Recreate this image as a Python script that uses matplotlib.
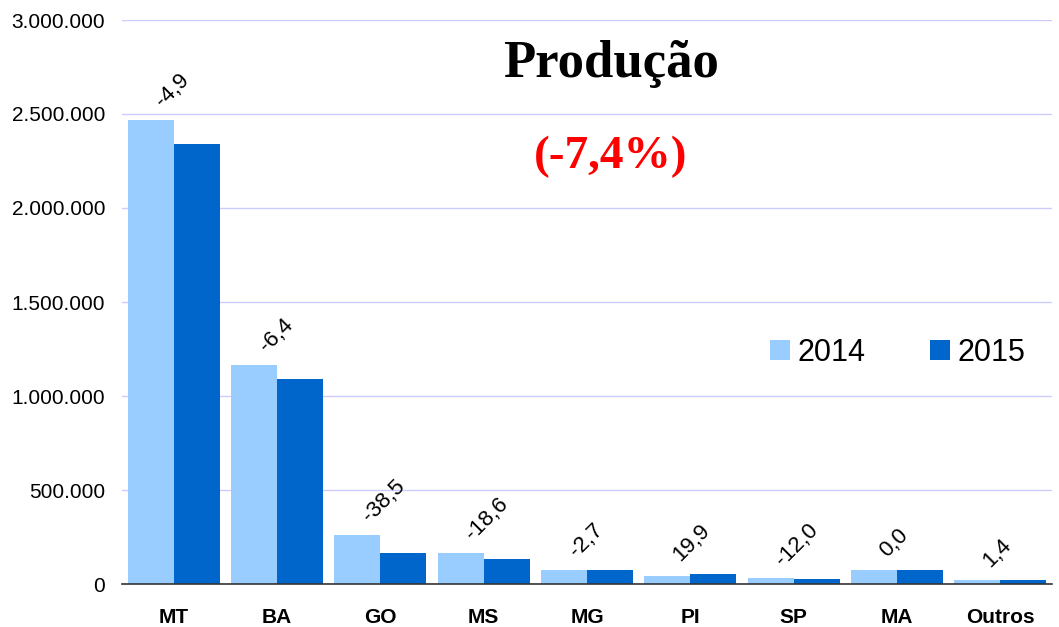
import matplotlib
matplotlib.use("Agg")
import matplotlib.pyplot as plt
import numpy as np

# Production by state, 2014 vs 2015
estados = ["MT", "BA", "GO", "MS", "MG", "PI", "SP", "MA", "Outros"]
prod_2014 = [2468000, 1165000, 261000, 165000, 76000, 44000, 30000, 74500, 21000]
prod_2015 = [2340000, 1090000, 165000, 133000, 74000, 53000, 26500, 74500, 21300]
variacao = [-4.9, -6.4, -38.5, -18.6, -2.7, 19.9, -12.0, 0.0, 1.4]
yticks = [0, 500000, 1000000, 1500000, 2000000, 2500000, 3000000]

plt.rcParams["font.family"] = ["Liberation Sans", "DejaVu Sans"]

W, H = 1059, 627
fig = plt.figure(figsize=(W / 100, H / 100), dpi=100)
ax = fig.add_axes([122 / W, (H - 584) / H, 930 / W, 564 / H])

x = np.arange(len(estados))
bw = 0.445
ax.bar(x - bw / 2, prod_2014, bw, color="#99ccff", label="2014", zorder=2)
ax.bar(x + bw / 2, prod_2015, bw, color="#0066cc", label="2015", zorder=2)

# rotated variation labels above each group
for i, v in enumerate(variacao):
    top = max(prod_2014[i], prod_2015[i])
    txt = f"{v:.1f}".replace(".", ",")
    ax.annotate(txt, (x[i], top), xytext=(-5, 6), textcoords="offset points",
                rotation=45, rotation_mode="anchor", ha="left", va="bottom",
                fontsize=16, color="black")

ax.set_xlim(-0.5, len(estados) - 0.5)
ax.set_ylim(0, 3000000)
ax.set_yticks(yticks)
ax.set_yticklabels([f"{t:,}".replace(",", ".") for t in yticks], fontsize=15)
ax.set_xticks(x)
ax.set_xticklabels(estados, fontsize=15, fontweight="bold")
ax.tick_params(axis="y", length=0, pad=12)
ax.tick_params(axis="x", length=0, pad=17)

ax.grid(axis="y", color="#ccccff", linewidth=1, zorder=0)
for s in ["left", "right", "top"]:
    ax.spines[s].set_visible(False)
ax.spines["bottom"].set_color("#333333")
ax.spines["bottom"].set_linewidth(1.2)
ax.spines["bottom"].set_zorder(3)

fig.text(611 / W, 1 - 77 / H, "Produção", fontsize=38, fontweight="bold",
         family="Liberation Serif", ha="center", va="baseline")
fig.text(611 / W, 1 - 168 / H, "(-7,4%)", fontsize=34, fontweight="bold",
         family="Liberation Serif", color="red", ha="center", va="baseline")

ax.legend(loc="center left", bbox_to_anchor=(770 / W, 1 - 353 / H),
          bbox_transform=fig.transFigure, ncol=2, frameon=False, fontsize=22,
          handlelength=0.65, handleheight=0.65, handletextpad=0.25,
          columnspacing=2.1, borderpad=0, borderaxespad=0)

fig.savefig("out.png", dpi=100)
